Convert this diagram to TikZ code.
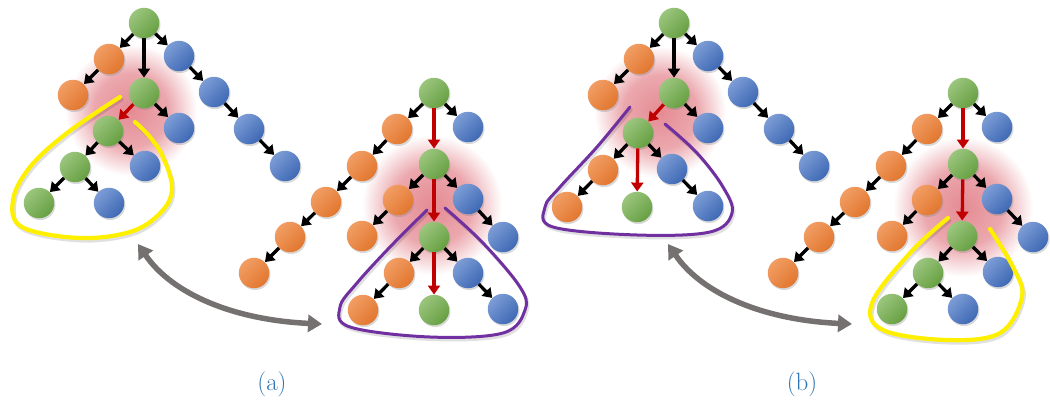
\documentclass[tikz,border=0pt]{standalone}
\usetikzlibrary{arrows.meta,shadows,calc}
\definecolor{gC}{RGB}{112,173,71}
\definecolor{oC}{RGB}{237,125,49}
\definecolor{bC}{RGB}{68,114,196}
\definecolor{rC}{RGB}{192,0,0}
\definecolor{yC}{RGB}{255,240,0}
\definecolor{pC}{RGB}{112,48,160}
\definecolor{grayC}{RGB}{118,113,113}
\definecolor{labC}{RGB}{46,117,182}
\definecolor{glowC}{RGB}{222,110,120}
\pgfdeclareradialshading{glow}{\pgfpoint{0bp}{0bp}}{color(0bp)=(glowC!80!white); color(14bp)=(glowC!60!white); color(25bp)=(white); color(50bp)=(white)}
\begin{document}
\begin{tikzpicture}[x=1pt,y=-1pt,
  ball/.style={circle, minimum size=30.5pt, inner sep=0pt, draw=none, shading angle=45,
    drop shadow={opacity=0.3, shadow xshift=1.2pt, shadow yshift=-1.8pt}},
  gn/.style={top color=gC!70!white, bottom color=gC!92!black, ball},
  on/.style={top color=oC!75!white, bottom color=oC!95!black, ball},
  bn/.style={top color=bC!70!white, bottom color=bC!92!black, ball},
  ar/.style={-{Triangle[length=9pt,width=12pt]}, line width=3.3pt, black},
  rar/.style={ar, color=rC},
  loopy/.style={yC, line width=4.2pt, line cap=round},
  loopp/.style={pC, line width=3pt, line cap=round},
  shad/.style={black, opacity=0.12, line cap=round, shift={(1.5,2.5)}},
  swap/.style={{Triangle[length=14pt,width=17pt]}-{Triangle[length=14pt,width=17pt]}, line width=5.5pt, grayC},
  lab/.style={text=labC, font=\fontsize{25}{30}\selectfont, inner sep=0pt}
]
\useasboundingbox (0,0) rectangle (1050,400);

% glows
\shade[shading=glow] (131,110) circle (66);
\shade[shading=glow] (432,205) circle (70);
\shade[shading=glow] (660,112) circle (66);
\shade[shading=glow] (963,207) circle (70);

% ---------- Tree A ----------
\node[gn] (A0) at (144,23) {};
\node[on] (A1) at (109,59) {};
\node[on] (A2) at (73,95) {};
\node[bn] (A3) at (179,56) {};
\node[bn] (A4) at (214,92) {};
\node[bn] (A5) at (249,129) {};
\node[bn] (A6) at (285,166) {};
\node[gn] (A7) at (144,93) {};
\node[bn] (A8) at (179,128) {};
\node[gn] (A9) at (108,131) {};
\node[bn] (A10) at (145,166) {};
\node[gn] (A11) at (75,167) {};
\node[gn] (A12) at (39,203) {};
\node[bn] (A13) at (109,203) {};
\draw[ar] (A0) -- (A1);
\draw[ar] (A1) -- (A2);
\draw[ar] (A0) -- (A3);
\draw[ar] (A3) -- (A4);
\draw[ar] (A4) -- (A5);
\draw[ar] (A5) -- (A6);
\draw[ar] (A0) -- (A7);
\draw[ar] (A7) -- (A8);
\draw[rar] (A7) -- (A9);
\draw[ar] (A9) -- (A11);
\draw[ar] (A9) -- (A10);
\draw[ar] (A11) -- (A12);
\draw[ar] (A11) -- (A13);

% ---------- Tree B ----------
\node[gn] (B0) at (434,93) {};
\node[bn] (B1) at (468,127) {};
\node[on] (B2) at (397,129) {};
\node[on] (B3) at (362,166) {};
\node[on] (B4) at (326,202) {};
\node[on] (B5) at (290,237) {};
\node[on] (B6) at (254,273) {};
\node[gn] (B7) at (434,164) {};
\node[on] (B8) at (398,200) {};
\node[on] (B9) at (362,236) {};
\node[bn] (B10) at (468,199) {};
\node[bn] (B11) at (503,237) {};
\node[gn] (B12) at (434,237) {};
\node[on] (B13) at (399,273) {};
\node[on] (B14) at (363,310) {};
\node[gn] (B15) at (434,310) {};
\node[bn] (B16) at (468,273) {};
\node[bn] (B17) at (503,309) {};
\draw[ar] (B0) -- (B1);
\draw[ar] (B0) -- (B2);
\draw[ar] (B2) -- (B3);
\draw[ar] (B3) -- (B4);
\draw[ar] (B4) -- (B5);
\draw[ar] (B5) -- (B6);
\draw[rar] (B0) -- (B7);
\draw[ar] (B7) -- (B8);
\draw[ar] (B8) -- (B9);
\draw[ar] (B7) -- (B10);
\draw[ar] (B10) -- (B11);
\draw[rar] (B7) -- (B12);
\draw[ar] (B12) -- (B13);
\draw[ar] (B13) -- (B14);
\draw[rar] (B12) -- (B15);
\draw[ar] (B12) -- (B16);
\draw[ar] (B16) -- (B17);

% ---------- Tree C ----------
\node[gn] (C0) at (674,23) {};
\node[on] (C1) at (639,59) {};
\node[on] (C2) at (603,95) {};
\node[bn] (C3) at (708,56) {};
\node[bn] (C4) at (743,92) {};
\node[bn] (C5) at (779,129) {};
\node[bn] (C6) at (814,166) {};
\node[gn] (C7) at (674,93) {};
\node[bn] (C8) at (708,128) {};
\node[gn] (C9) at (638,133) {};
\node[on] (C10) at (603,170) {};
\node[on] (C11) at (567,207) {};
\node[gn] (C12) at (637,207) {};
\node[bn] (C13) at (672,169) {};
\node[bn] (C14) at (708,206) {};
\draw[ar] (C0) -- (C1);
\draw[ar] (C1) -- (C2);
\draw[ar] (C0) -- (C3);
\draw[ar] (C3) -- (C4);
\draw[ar] (C4) -- (C5);
\draw[ar] (C5) -- (C6);
\draw[ar] (C0) -- (C7);
\draw[ar] (C7) -- (C8);
\draw[rar] (C7) -- (C9);
\draw[ar] (C9) -- (C10);
\draw[ar] (C10) -- (C11);
\draw[rar] (C9) -- (C12);
\draw[ar] (C9) -- (C13);
\draw[ar] (C13) -- (C14);

% ---------- Tree D ----------
\node[gn] (D0) at (963,93) {};
\node[bn] (D1) at (997,127) {};
\node[on] (D2) at (927,129) {};
\node[on] (D3) at (891,166) {};
\node[on] (D4) at (855,202) {};
\node[on] (D5) at (819,237) {};
\node[on] (D6) at (783,273) {};
\node[gn] (D7) at (963,164) {};
\node[on] (D8) at (927,200) {};
\node[on] (D9) at (892,236) {};
\node[bn] (D10) at (997,199) {};
\node[bn] (D11) at (1033,237) {};
\node[gn] (D12) at (962,236) {};
\node[gn] (D13) at (928,273) {};
\node[bn] (D14) at (998,272) {};
\node[gn] (D15) at (892,309) {};
\node[bn] (D16) at (963,309) {};
\draw[ar] (D0) -- (D1);
\draw[ar] (D0) -- (D2);
\draw[ar] (D2) -- (D3);
\draw[ar] (D3) -- (D4);
\draw[ar] (D4) -- (D5);
\draw[ar] (D5) -- (D6);
\draw[rar] (D0) -- (D7);
\draw[ar] (D7) -- (D8);
\draw[ar] (D8) -- (D9);
\draw[ar] (D7) -- (D10);
\draw[ar] (D10) -- (D11);
\draw[rar] (D7) -- (D12);
\draw[ar] (D12) -- (D13);
\draw[ar] (D12) -- (D14);
\draw[ar] (D13) -- (D15);
\draw[ar] (D13) -- (D16);

% ---------- loops ----------
\def\loopA{(120,97) (67,133) (30,167) (13,200) (22,227) (80,238) (133,231) (163,210) (172,187) (163,157) (150,137) (135,122)}
\def\loopB{(427,210) (390,247) (357,283) (340,307) (350,327) (430,337) (503,333) (525,310) (520,287) (483,243) (445,208)}
\def\loopC{(630,107) (597,147) (560,187) (545,207) (553,227) (637,235) (710,232) (732,213) (723,187) (697,153) (665,124)}
\def\loopD{(948,218) (910,253) (872,303) (883,330) (947,340) (1000,333) (1022,297) (1013,267) (990,229)}
\draw[shad, line width=4pt] plot[smooth, tension=0.6] coordinates \loopA;
\draw[loopy] plot[smooth, tension=0.6] coordinates \loopA;
\draw[shad, line width=3pt] plot[smooth, tension=0.6] coordinates \loopB;
\draw[loopp] plot[smooth, tension=0.6] coordinates \loopB;
\draw[shad, line width=3pt] plot[smooth, tension=0.6] coordinates \loopC;
\draw[loopp] plot[smooth, tension=0.6] coordinates \loopC;
\draw[shad, line width=4pt] plot[smooth, tension=0.6] coordinates \loopD;
\draw[loopy] plot[smooth, tension=0.6] coordinates \loopD;

% ---------- swap arrows ----------
\coordinate (sa1) at (138,244);
\coordinate (sa2) at (322,324);
\coordinate (sb1) at (668,244);
\coordinate (sb2) at (852,324);
\draw[swap] (sa1) .. controls ($(sa1)+(34,50)$) and ($(sa2)+(-88,-4)$) .. (sa2);
\draw[swap] (sb1) .. controls ($(sb1)+(34,50)$) and ($(sb2)+(-88,-4)$) .. (sb2);

% ---------- labels ----------
\node[lab] (la) at (272,384) {(a)};
\node[lab] (lb) at (802,384) {(b)};
\end{tikzpicture}
\end{document}
